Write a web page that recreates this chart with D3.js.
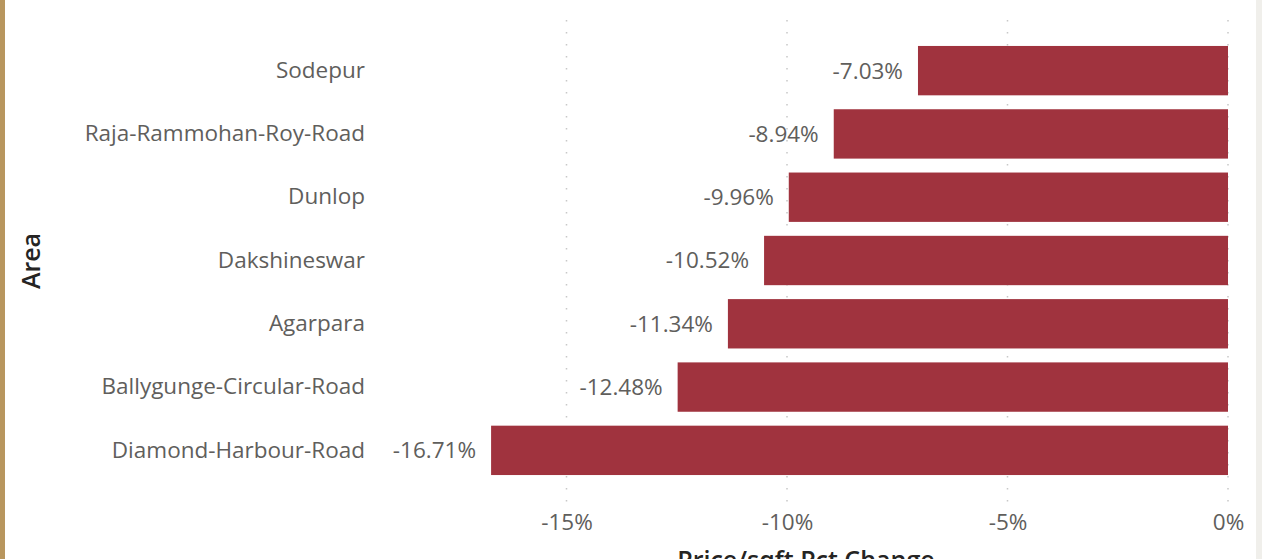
<!DOCTYPE html>
<html><head><meta charset="utf-8">
<script src="https://cdn.jsdelivr.net/npm/d3@7"></script>
<style>
html,body{margin:0;padding:0;background:#fff;overflow:hidden;}
svg{display:block;}
svg text{font-family:"Segoe UI","Open Sans","Noto Sans",sans-serif;}
</style></head>
<body>
<svg id="chart" width="1262" height="559"></svg>
<script>
const categories = ["Sodepur","Raja-Rammohan-Roy-Road","Dunlop","Dakshineswar","Agarpara","Ballygunge-Circular-Road","Diamond-Harbour-Road"];
const values = [-7.03,-8.94,-9.96,-10.52,-11.34,-12.48,-16.71];
const tickValues = [-15,-10,-5,0];
const xTitle = "Price/sqft Pct Change";
const yTitle = "Area";

const FONT = '"Segoe UI","Open Sans","Noto Sans",sans-serif';
const svg = d3.select("#chart");
svg.append("rect").attr("x",0).attr("y",0).attr("width",5).attr("height",559).attr("fill","#B8965E");
svg.append("rect").attr("x",1256).attr("y",0).attr("width",6).attr("height",559).attr("fill","#F0EFEB");

const x = d3.scaleLinear().domain([-15,0]).range([566.5,1228]);
const y = d3.scaleBand().domain(categories).range([39,482]).paddingInner(0.22).paddingOuter(0.11);

svg.append("g").selectAll("line").data(tickValues).join("line")
  .attr("x1",d=>x(d)).attr("x2",d=>x(d)).attr("y1",20).attr("y2",505)
  .attr("stroke","#c8c8c8").attr("stroke-width",1.5).attr("stroke-dasharray","1.5,10.5");

svg.append("g").selectAll("rect").data(values).join("rect")
  .attr("x",d=>x(d)).attr("width",d=>x(0)-x(d))
  .attr("y",(d,i)=>y(categories[i])).attr("height",y.bandwidth())
  .attr("fill","#A0333E");

svg.append("g").selectAll("text").data(values).join("text")
  .attr("x",d=>x(d)-15).attr("y",(d,i)=>y(categories[i])+y.bandwidth()/2)
  .attr("dy","0.35em").attr("text-anchor","end")
  .attr("font-size",22.5).attr("fill","#605E5C").attr("font-family",FONT)
  .text(d=>d.toFixed(2)+"%");

const yAxis = d3.axisLeft(y).tickSize(0).tickPadding(0);
const gy = svg.append("g").attr("transform","translate(365,0)").call(yAxis);
gy.select(".domain").remove();
gy.selectAll("text").attr("font-size",22.5).attr("fill","#605E5C").attr("font-family",FONT);

const xAxis = d3.axisBottom(x).tickValues(tickValues).tickSize(0).tickPadding(0).tickFormat(d=>String(d)+"%");
const gx = svg.append("g").attr("transform","translate(0,514)").call(xAxis);
gx.select(".domain").remove();
gx.selectAll("text").attr("font-size",22.5).attr("fill","#605E5C").attr("font-family",FONT);

svg.append("text").attr("x",806).attr("y",569).attr("text-anchor","middle").attr("font-family",FONT)
  .attr("font-size",25).attr("font-weight",600).attr("fill","#252423").text(xTitle);
svg.append("text").attr("transform","translate(40,261) rotate(-90)").attr("text-anchor","middle").attr("font-family",FONT)
  .attr("font-size",25).attr("font-weight",600).attr("fill","#252423").text(yTitle);
</script>
</body></html>
